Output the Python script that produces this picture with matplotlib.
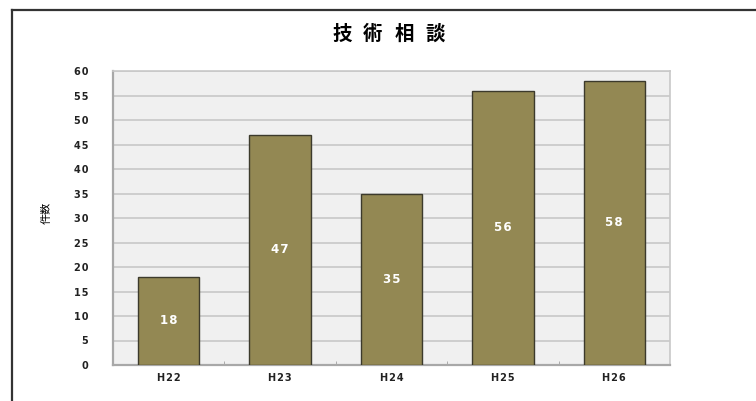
import matplotlib
matplotlib.use("Agg")
import matplotlib.pyplot as plt
from matplotlib.lines import Line2D
from matplotlib.ticker import MultipleLocator, FixedLocator, FuncFormatter

plt.rcParams['font.family'] = ['Noto Sans CJK JP', 'DejaVu Sans']

# data
categories = ["H22", "H23", "H24", "H25", "H26"]
counts = [18, 47, 35, 56, 58]
title = "技術相談"
ylabel = "件数"

bar_color = "#938853"
edge_color = "#3c3a2c"


def spaced(s, sep="\u200a"):
    # the original font is a wide one, so pad the characters a little
    return sep.join(s)


fig = plt.figure(figsize=(7.56, 4.01), dpi=100)
fig.patch.set_facecolor("white")

# outer frame (cut off on the right and bottom)
fig.add_artist(Line2D([12 / 756, 12 / 756], [0, 1 - 10 / 401], transform=fig.transFigure,
                      color="#333333", lw=1.6))
fig.add_artist(Line2D([12 / 756, 1], [1 - 10 / 401, 1 - 10 / 401], transform=fig.transFigure,
                      color="#333333", lw=1.6))

ax = fig.add_axes([113 / 756, 1 - 365 / 401, 557 / 756, 294 / 401])
ax.set_facecolor("#f0f0f0")

x = list(range(len(categories)))
bars = ax.bar(x, counts, width=0.55, color=bar_color, edgecolor=edge_color, linewidth=1.0, zorder=3)

for rect, v in zip(bars, counts):
    ax.text(rect.get_x() + rect.get_width() / 2, v / 2, spaced(str(v)), ha="center",
            va="center", color="white", fontsize=8.5, fontweight="bold", family="DejaVu Sans",
            zorder=4)

ax.set_xlim(-0.5, len(categories) - 0.5)
ax.set_ylim(0, 60)
ax.yaxis.set_major_locator(MultipleLocator(5))
ax.yaxis.set_major_formatter(FuncFormatter(lambda v, p: spaced(str(int(v)))))
ax.grid(axis="y", color="#c8c8c8", linewidth=1.2, zorder=0)
ax.set_axisbelow(True)

ax.set_xticks(x)
ax.set_xticklabels([spaced(c) for c in categories])
ax.xaxis.set_minor_locator(FixedLocator([i + 0.5 for i in range(len(categories) - 1)]))
ax.tick_params(axis="x", which="major", length=0, pad=6)
ax.tick_params(axis="x", which="minor", length=3, direction="in", color="#a0a0a0")
ax.tick_params(axis="y", length=0, pad=18)
for lab in ax.get_xticklabels() + ax.get_yticklabels():
    lab.set_family("DejaVu Sans")
    lab.set_fontsize(7)
    lab.set_fontweight("bold")
    lab.set_color("#222222")

for side in ["left", "bottom"]:
    ax.spines[side].set_color("#a8a8a8")
    ax.spines[side].set_linewidth(1.6)
for side in ["top", "right"]:
    ax.spines[side].set_color("#c8c8c8")
    ax.spines[side].set_linewidth(1.2)

# title with wide letter spacing as in the original
for i, ch in enumerate(title):
    fig.text((342 + i * 31) / 756, 1 - 34 / 401, ch, ha="center", va="center",
             fontsize=14, fontweight="bold")
fig.text(47 / 756, 1 - 213 / 401, ylabel, ha="center", va="center", fontsize=8,
         rotation=90)

fig.savefig("out.png", dpi=100)
